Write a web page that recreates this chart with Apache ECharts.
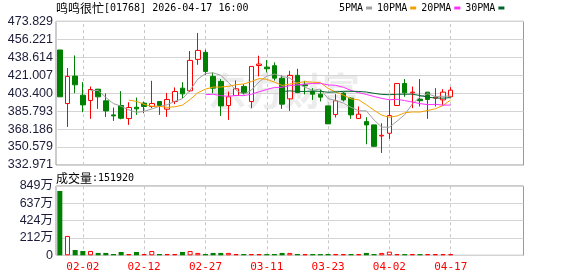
<!DOCTYPE html>
<html><head><meta charset="utf-8">
<script src="https://cdn.jsdelivr.net/npm/echarts@6/dist/echarts.min.js"></script>
<style>html,body{margin:0;padding:0;background:#fff;}#c{width:578px;height:276px;}</style>
</head><body><div id="c"></div>
<script>
const stockName = '鸣鸣很忙';
const stockCode = '01768';
const quoteTime = '2026-04-17 16:00';
const dates = ['01-28','01-29','01-30','02-02','02-03','02-04','02-05','02-06','02-09','02-10','02-11','02-12','02-13','02-16','02-20','02-23','02-24','02-25','02-26','02-27','03-02','03-03','03-04','03-05','03-06','03-09','03-10','03-11','03-12','03-13','03-16','03-17','03-18','03-19','03-20','03-23','03-24','03-25','03-26','03-27','03-30','03-31','04-01','04-02','04-08','04-09','04-10','04-13','04-14','04-15','04-16','04-17'];
const openP  = [445.7,393.2,420.1,401.4,396.2,407.3,395.9,382.1,391.3,378.5,389.6,393.6,390.3,395.2,387.7,395.2,408.3,405.7,436.5,443.4,419.8,414.9,391.3,401.1,410.0,395.2,430.5,428.9,430.3,418.1,397.8,420.8,411.6,405.0,402.4,390.9,382.4,403.4,398.5,378.5,375.5,372.3,361.4,364.1,391.3,412.9,403.7,397.5,404.4,398.5,396.8,399.8];
const closeP = [399.8,419.8,411.6,391.9,407.0,399.8,386.0,381.1,378.8,389.3,388.0,390.3,393.2,391.3,397.2,405.0,402.7,435.5,445.3,424.7,408.3,390.9,399.8,407.7,403.7,429.6,431.9,427.3,418.1,392.6,420.8,404.0,410.6,402.4,399.5,373.3,395.9,396.8,382.1,382.8,372.3,351.3,362.1,381.4,412.9,403.7,404.4,396.0,397.2,399.5,404.4,406.3];
const lowP   = [399.8,370.3,403.4,384.7,378.2,388.0,380.1,376.2,377.8,372.3,382.1,383.7,388.7,382.1,380.1,392.6,398.5,404.4,431.2,421.4,403.4,381.1,377.2,400.5,402.4,388.7,419.8,423.7,415.8,388.0,386.0,403.4,402.1,396.8,395.2,373.3,379.5,395.2,378.2,378.5,353.3,350.7,344.8,358.5,391.3,399.8,388.7,390.3,378.2,390.3,391.9,399.8];
const highP  = [445.7,428.0,440.4,414.2,409.9,407.3,403.1,389.3,405.4,394.5,399.1,395.2,415.5,395.2,403.7,409.0,414.2,444.7,462.4,446.0,423.7,417.2,405.0,415.8,412.2,429.6,440.1,435.8,433.5,420.8,425.3,427.3,415.5,408.3,406.7,390.9,402.4,404.4,399.1,390.3,379.8,372.3,373.9,396.5,412.9,417.2,409.9,417.2,404.4,408.3,407.3,409.3];
const volume = [7880000,2370000,650000,530000,530000,290000,290000,160000,410000,160000,410000,160000,530000,160000,160000,160000,410000,530000,290000,160000,290000,290000,290000,160000,160000,160000,160000,150000,160000,290000,290000,160000,150000,160000,150000,160000,160000,150000,160000,150000,290000,160000,290000,450000,160000,150000,160000,150000,160000,150000,160000,151920];
const priceTicks = ['332.971','350.579','368.186','385.793','403.400','421.007','438.614','456.221','473.829'];
const volTicks = ['0','212万','424万','637万','849万'];
const labelDates = ['02-02','02-12','02-27','03-11','03-23','04-02','04-17'];
const maPeriods = [5,10,20,30];
const maNames = ['5PMA','10PMA','20PMA','30PMA'];
const emptySlots = 9;

const RED = '#ff0000', GREEN = '#008000';
const maColors = ['#a0a0a0','#f5a000','#ff30ff','#00662e'];
const cats = dates.concat(Array.from({length: emptySlots}, (_, i) => 'e' + i));
const pMin = 332.9714, pMax = 473.8286, pInt = (pMax - pMin) / 8;
const vMax = 8489000, vInt = vMax / 4;
const MONO = '"DejaVu Sans Mono","Noto Sans CJK SC",monospace';
const CJK = '"Noto Sans CJK SC",sans-serif';
const SANS = '"Liberation Sans","Noto Sans CJK SC",sans-serif';

function ma(n) {
  return closeP.map((c, i) => {
    if (i < n - 1) return '-';
    let s = 0; for (let k = i - n + 1; k <= i; k++) s += closeP[k];
    return +(s / n).toFixed(3);
  });
}
function volUp(i) { return i === 0 ? closeP[0] >= openP[0] : closeP[i] >= closeP[i - 1]; }
const labelSet = new Set(labelDates.map(d => dates.indexOf(d)));
const vLines = {
  silent: true, symbol: ['none', 'none'], z: 1, animation: false,
  label: { show: false },
  lineStyle: { type: [3, 3], color: '#c8c8c8', width: 1 },
  emphasis: { disabled: true },
  data: labelDates.map(d => ({ xAxis: d }))
};
const richTitle = {
  c: { fontFamily: CJK, fontSize: 12, fontWeight: 'normal', color: '#000' },
  a: { fontFamily: MONO, fontSize: 10, fontWeight: 'normal', color: '#000' }
};

const chart = echarts.init(document.getElementById('c'), null, { renderer: 'canvas' });
const option = {
  animation: false,
  backgroundColor: '#fff',
  title: [
    { text: '{c|' + stockName + '}{a|[' + stockCode + '] ' + quoteTime + '}', left: 56, top: 2, padding: 0,
      textStyle: { fontWeight: 'normal', rich: richTitle } },
    { text: '{c|成交量}{a|:' + volume[volume.length - 1] + '}', left: 56, top: 172, padding: 0,
      textStyle: { fontWeight: 'normal', rich: richTitle } }
  ],
  legend: {
    data: maNames, left: 339, top: 3, padding: 0, itemGap: 5, itemWidth: 6, itemHeight: 3,
    align: 'right', icon: 'rect', selectedMode: false,
    textStyle: { fontFamily: MONO, fontSize: 10, color: '#000', padding: [0, -2, 0, 0] }
  },
  graphic: [{ type: 'text', left: 208, top: 72, z: 0, silent: true,
    style: { text: '东方财富', fontFamily: CJK, fontSize: 38, fontWeight: 'bold', fill: '#ececec' } }],
  grid: [
    { left: 56, right: 54.5, top: 21.3, height: 143.7, show: true, borderColor: '#999', borderWidth: 1, backgroundColor: 'transparent' },
    { left: 56, right: 54.5, top: 186, height: 69.3, show: true, borderColor: '#999', borderWidth: 1, backgroundColor: 'transparent' }
  ],
  xAxis: [
    { type: 'category', gridIndex: 0, data: cats, boundaryGap: true,
      axisLine: { show: false }, axisTick: { show: false }, axisLabel: { show: false }, splitLine: { show: false } },
    { type: 'category', gridIndex: 1, data: cats, boundaryGap: true,
      axisLine: { show: false }, axisTick: { show: false }, splitLine: { show: false },
      axisLabel: { show: true, interval: (i) => labelSet.has(i), color: RED, fontFamily: MONO, fontSize: 11, margin: 6 } }
  ],
  yAxis: [
    { type: 'value', gridIndex: 0, min: pMin, max: pMax, interval: pInt, scale: true,
      axisLine: { show: false }, axisTick: { show: false },
      splitLine: { show: true, lineStyle: { color: '#d4d4d4', width: 1 } },
      axisLabel: { color: '#1c1c3a', fontFamily: SANS, fontSize: 12.5, margin: 3,
        formatter: (v) => priceTicks[Math.round((v - pMin) / pInt)] } },
    { type: 'value', gridIndex: 1, min: 0, max: vMax, interval: vInt,
      axisLine: { show: false }, axisTick: { show: false },
      splitLine: { show: true, lineStyle: { color: '#d4d4d4', width: 1 } },
      axisLabel: { color: '#1c1c3a', fontFamily: SANS, fontSize: 12.5, margin: 3,
        formatter: (v) => volTicks[Math.round(v / vInt)] } }
  ],
  series: [
    { type: 'candlestick', name: 'K', xAxisIndex: 0, yAxisIndex: 0, barWidth: 5, z: 2,
      data: dates.map((d, i) => [openP[i], closeP[i], lowP[i], highP[i]]),
      itemStyle: { color: '#ffffff', color0: GREEN, borderColor: RED, borderColor0: GREEN, borderWidth: 1 },
      markLine: vLines },
    ...maPeriods.map((n, k) => ({
      type: 'line', name: maNames[k], xAxisIndex: 0, yAxisIndex: 0, data: ma(n), z: 3,
      showSymbol: false, symbol: 'none', smooth: false, connectNulls: false,
      lineStyle: { color: maColors[k], width: 1 }, itemStyle: { color: maColors[k] }
    })),
    { type: 'bar', name: 'VOL', xAxisIndex: 1, yAxisIndex: 1, barWidth: 5, z: 2,
      data: volume.map((v, i) => ({ value: v, itemStyle: volUp(i)
        ? { color: '#ffffff', borderColor: RED, borderWidth: 1 }
        : { color: GREEN, borderColor: GREEN, borderWidth: 0 } })),
      markLine: vLines }
  ]
};
chart.setOption(option);
</script></body></html>
